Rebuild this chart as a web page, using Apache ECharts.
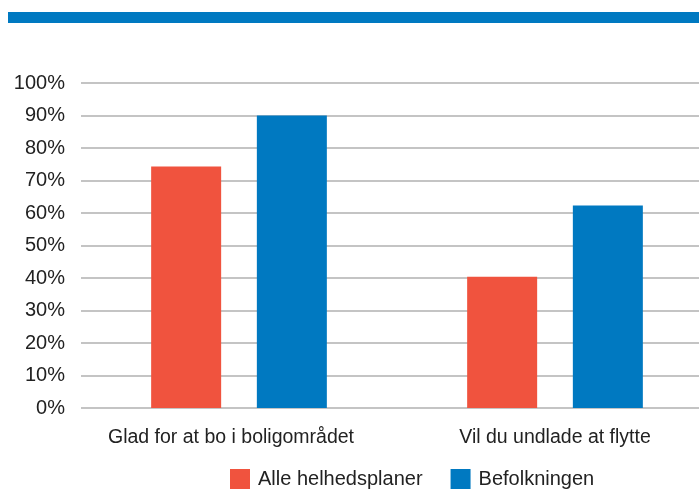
<!DOCTYPE html>
<html><head><meta charset="utf-8">
<script src="https://cdn.jsdelivr.net/npm/echarts@6/dist/echarts.min.js"></script>
<style>html,body{margin:0;padding:0;background:#fff;overflow:hidden}#c{width:713px;height:489px}</style>
</head><body><div id="c"></div>
<script>
const categories = ["Glad for at bo i boligområdet", "Vil du undlade at flytte"];
const seriesNames = ["Alle helhedsplaner", "Befolkningen"];
const alleHelhedsplaner = [74.3, 40.4];
const befolkningen = [90, 62.3];
const yTicks = [0, 10, 20, 30, 40, 50, 60, 70, 80, 90, 100];

const FONT = "Liberation Sans";
const labelShift = [16, 0];
const chart = echarts.init(document.getElementById('c'), null, {renderer: 'canvas'});
chart.setOption({
  animation: false,
  graphic: [{type: 'rect', shape: {x: 8, y: 12, width: 710, height: 11}, style: {fill: '#0079C1'}}],
  grid: {left: 81, right: 0, top: 83, bottom: 81, containLabel: false},
  legend: {
    data: seriesNames, bottom: 0, left: 230, padding: 0, itemWidth: 20, itemHeight: 20, itemGap: 28,
    icon: 'rect',
    textStyle: {fontFamily: FONT, fontSize: 20, color: '#222', padding: [0, 0, 0, 3]}
  },
  xAxis: {
    type: 'category',
    data: categories.map((c, i) => ({value: c, textStyle: {padding: [0, labelShift[i], 0, 0]}})),
    axisLine: {show: false}, axisTick: {show: false},
    axisLabel: {fontFamily: FONT, fontSize: 19.5, color: '#222', margin: 20, interval: 0}
  },
  yAxis: {
    type: 'value', min: 0, max: 100, interval: 10,
    axisLine: {show: false}, axisTick: {show: false},
    splitLine: {lineStyle: {color: '#b0b0b0', width: 1.5}},
    axisLabel: {fontFamily: FONT, fontSize: 20, color: '#222', margin: 16,
      formatter: v => yTicks.includes(v) ? v + '%' : ''}
  },
  series: [
    {name: seriesNames[0], type: 'bar', data: alleHelhedsplaner, barWidth: 70, barGap: '51%',
     itemStyle: {color: '#F0533E'}},
    {name: seriesNames[1], type: 'bar', data: befolkningen, barWidth: 70,
     itemStyle: {color: '#0079C1'}}
  ]
});
</script></body></html>
